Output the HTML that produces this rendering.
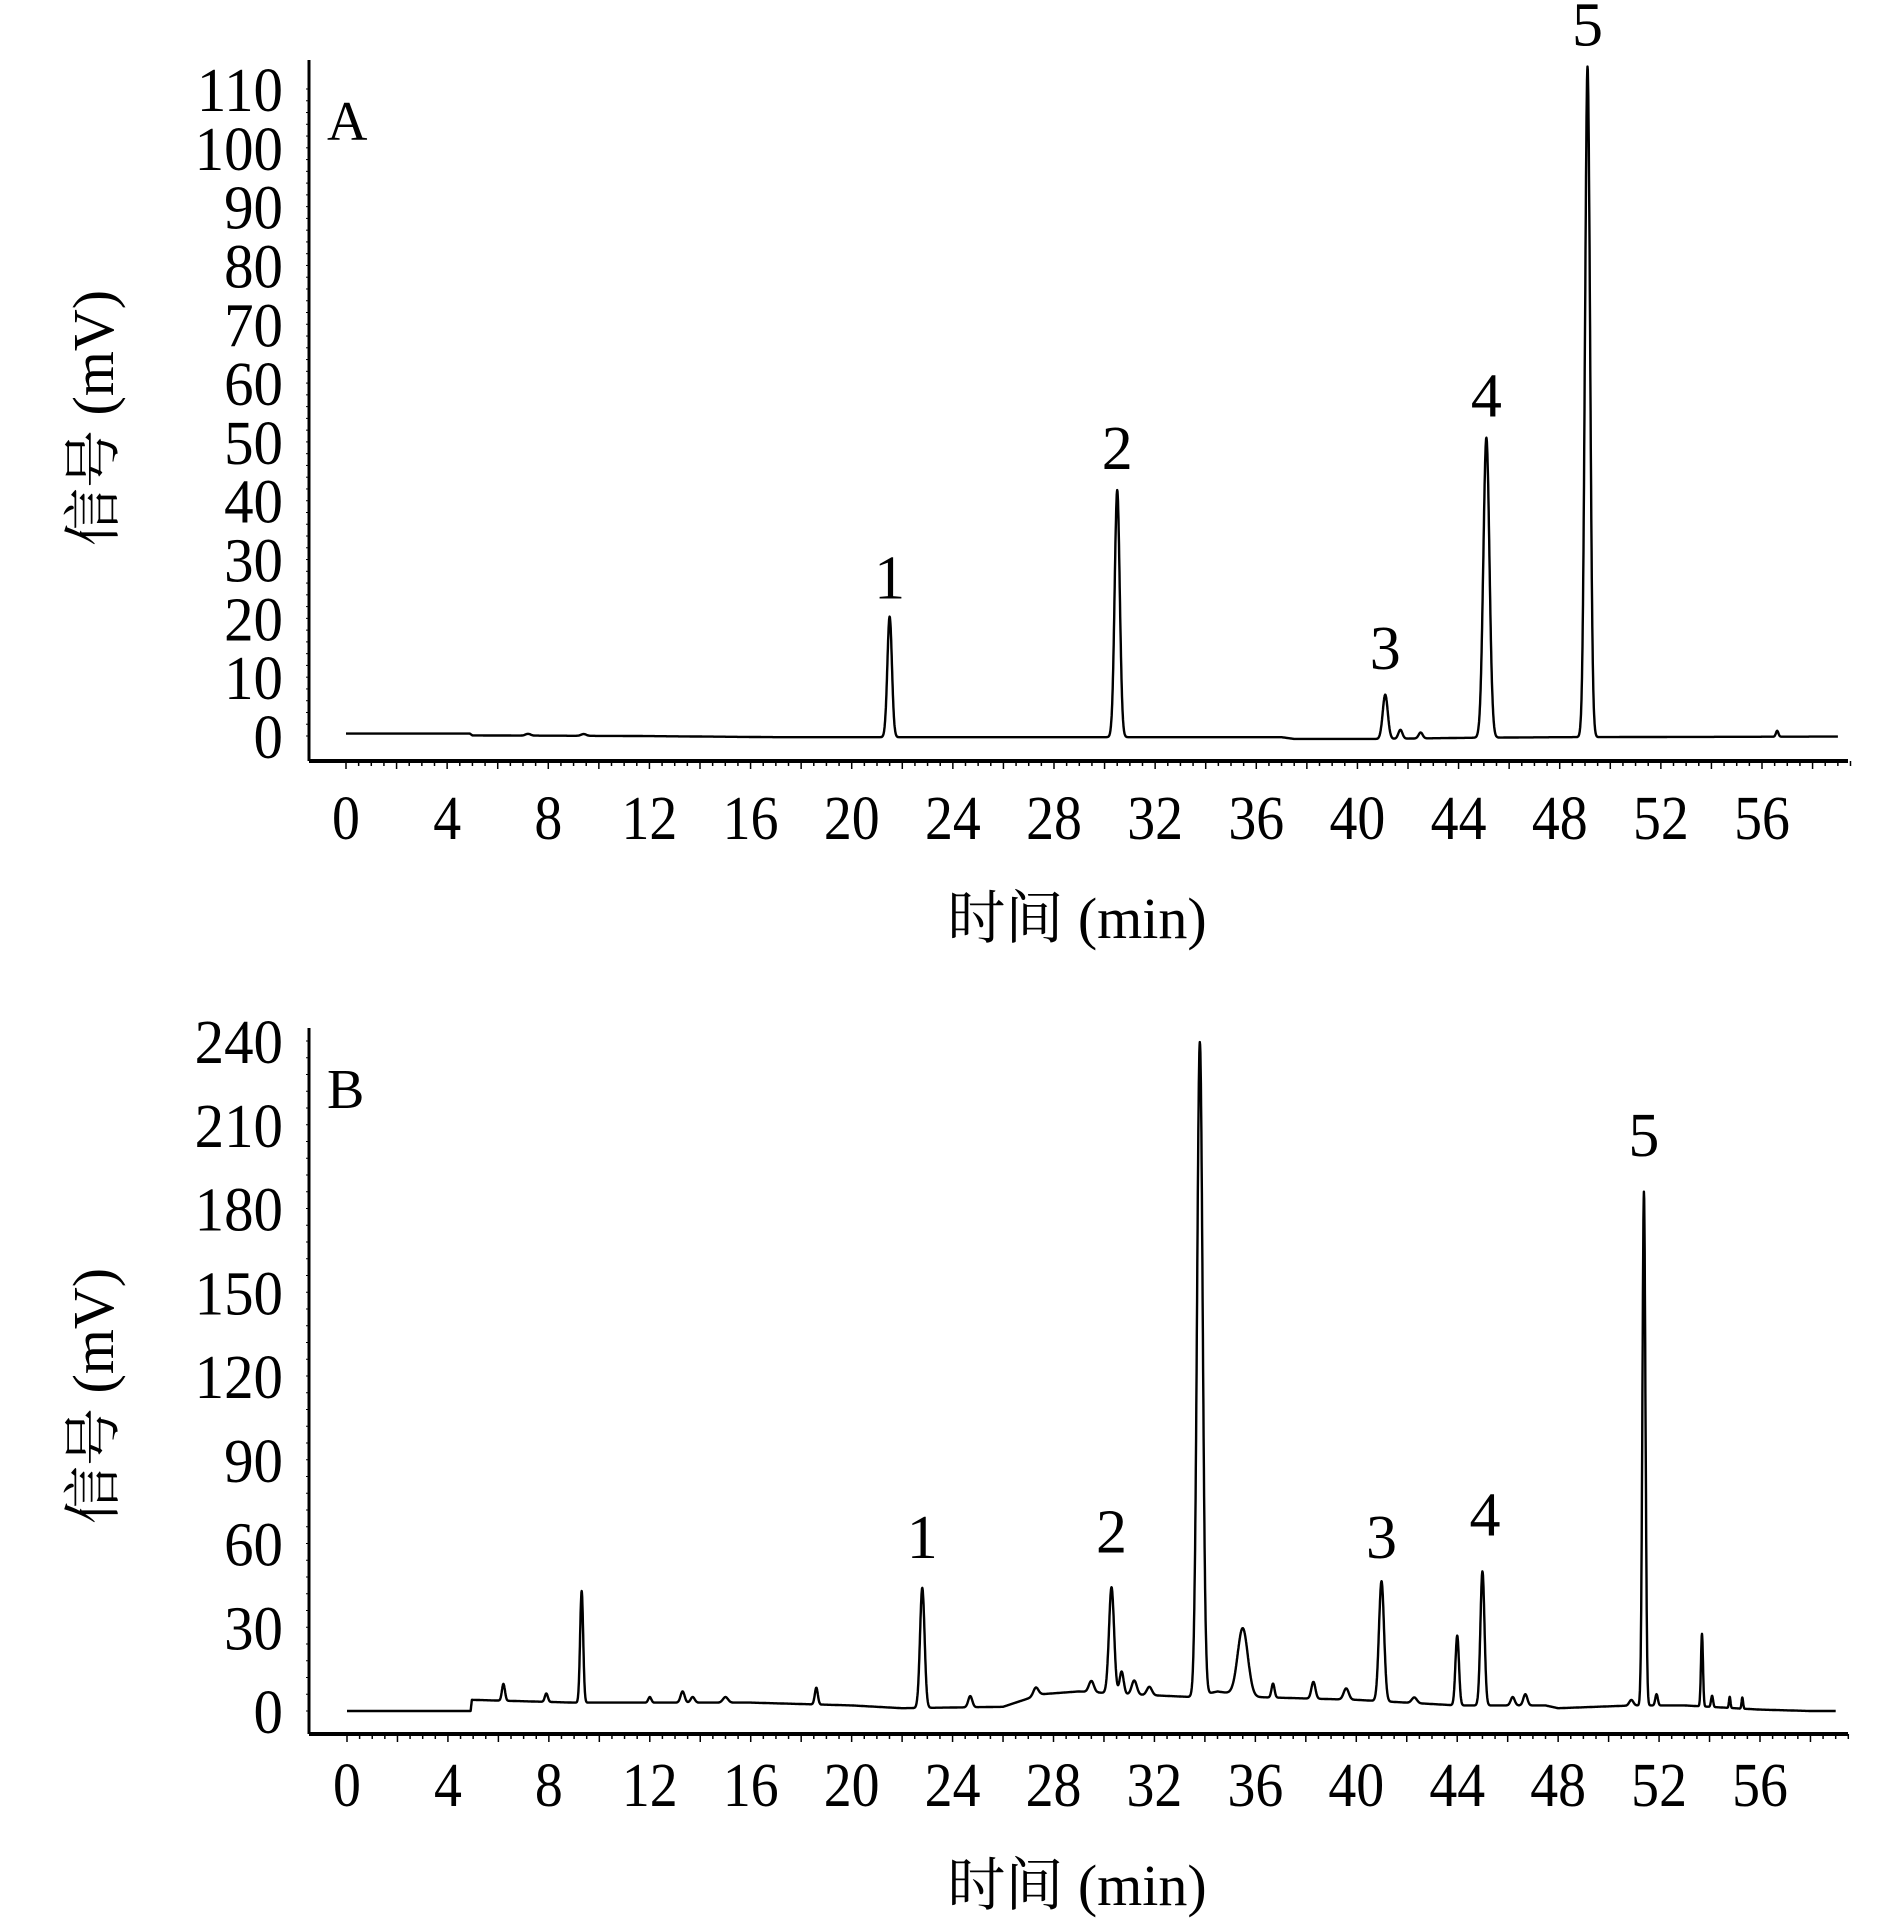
<!DOCTYPE html>
<html><head><meta charset="utf-8"><style>
html,body{margin:0;padding:0;background:#fff;}
svg{display:block;}
text{font-family:"Liberation Serif","Noto Serif CJK SC",serif;fill:#000;}
</style></head><body>
<svg id="chart" width="1890" height="1930" viewBox="0 0 1890 1930" xmlns="http://www.w3.org/2000/svg"></svg>
<script>
// Panel A data
const xTicks = [0,4,8,12,16,20,24,28,32,36,40,44,48,52,56];
const yTicksA = [0,10,20,30,40,50,60,70,80,90,100,110];
const yTicksB = [0,30,60,90,120,150,180,210,240];
// peaks: time (min), height (mV), width (min sigma)
const peakTimesA = [21.5,30.5,41.1,41.7,42.5,45.1,49.1,56.6,7.2,9.4];
const peakHeightsA = [20.5,42,7.5,1.5,1.0,51,114,1.0,0.3,0.3];
const peakWidthsA = [0.09,0.1,0.1,0.08,0.08,0.12,0.1,0.05,0.1,0.1];
const baseTimesA = [0,4.9,5.0,11.5,17,37,37.5,40.8,44.5,48,59];
const baseValsA = [0.4,0.4,0.1,0,-0.2,-0.2,-0.5,-0.5,-0.3,-0.2,-0.1];
const labelTimesA = [21.5,30.5,41.1,45.1,49.1];
const labelValsA = [22,44,10,53,116];
const labelTextA = ["1","2","3","4","5"];
// Panel B data
const peakTimesB = [6.2,7.9,9.3,12,13.3,13.7,15,18.6,22.8,24.7,27.3,29.5,30.3,30.7,31.2,31.8,33.8,35.5,36.7,38.3,39.6,41.0,42.3,44.0,45.0,46.2,46.7,50.9,51.4,51.9,53.7,54.1,54.8,55.3];
const peakHeightsB = [6,3,40,2,4,2,2,6,43,4,3,4,38,8,5,3,234,24,5,6,4,43,2,25,48,3,4,2,184,4,26,4,4,4];
const peakWidthsB = [0.06,0.06,0.06,0.06,0.08,0.08,0.1,0.06,0.09,0.08,0.1,0.1,0.1,0.08,0.1,0.1,0.11,0.2,0.06,0.08,0.1,0.1,0.1,0.07,0.08,0.08,0.08,0.08,0.06,0.05,0.04,0.04,0.03,0.03];
const baseTimesB = [0,4.9,4.95,9,16,20,22,26,27.5,29,31,33.5,34.5,36,40,42,44,47.5,48,51,53,55,56,58];
const baseValsB = [0,0,4,3,3,2,1,1.5,6,7,6,5,7,5,4,3,2,2,1,2,2,1,0.5,0];
const labelTimesB = [22.8,30.3,41.0,45.1,51.4];
const labelValsB = [52,54,52,60,196];
const labelTextB = ["1","2","3","4","5"];

const NS="http://www.w3.org/2000/svg";
const svg=document.getElementById('chart');
function mk(tag,attrs,parent){const e=document.createElementNS(NS,tag);for(const k in attrs)e.setAttribute(k,attrs[k]);(parent||svg).appendChild(e);return e;}
function baseline(ts,vs,t){for(let i=0;i<ts.length-1;i++){if(t>=ts[i]&&t<=ts[i+1]){const f=(t-ts[i])/(ts[i+1]-ts[i]||1);return vs[i]+f*(vs[i+1]-vs[i]);}}return vs[vs.length-1];}

function panel(cfg){
  const g=mk('g',{});
  
  
  const xS=t=>cfg.x0+(t)*(cfg.x56-cfg.x0)/56;
  const yS=v=>cfg.y0+v*(cfg.yTop-cfg.y0)/cfg.yMax;
  const ya=mk('line',{x1:cfg.axX,y1:cfg.axTop,x2:cfg.axX,y2:cfg.axY,stroke:'#000','stroke-width':3},g);
  
  const xa=mk('line',{x1:cfg.axX,y1:cfg.axY,x2:1848,y2:cfg.axY,stroke:'#000','stroke-width':4},g);
  
  for(let t=0;t<=59.5;t+=0.5){const x=xS(t);const L=(t%2===0)?8:5;mk('line',{x1:x,y1:cfg.axY,x2:x,y2:cfg.axY+L,stroke:'#000','stroke-width':1.5},g);}
  const step=cfg.yTicks[1]-cfg.yTicks[0];
  for(let v=0;v<=cfg.yMax+0.001;v+=step/5){mk('line',{x1:cfg.axX-3,y1:yS(v),x2:cfg.axX,y2:yS(v),stroke:'#000','stroke-width':1},g);}
  xTicks.forEach(t=>{const tx=mk('text',{transform:`translate(${xS(t)},${cfg.xLabY}) scale(0.9,1)`,'text-anchor':'middle','font-size':62},g);tx.textContent=t;
    });
  cfg.yTicks.forEach(v=>{const tx=mk('text',{transform:`translate(283,${yS(v)+22}) scale(0.95,1)`,'text-anchor':'end','font-size':62},g);tx.textContent=v;
    });
  let d='';
  for(let t=0;t<=59;t+=0.01){
    let v=baseline(cfg.bt,cfg.bv,t);
    for(let i=0;i<cfg.pt.length;i++){const z=(t-cfg.pt[i])/cfg.pw[i];v+=cfg.ph[i]*Math.exp(-0.5*z*z);}
    d+=(d?'L':'M')+xS(t).toFixed(1)+','+yS(v).toFixed(1);
  }
  const p=mk('path',{d:d,fill:'none',stroke:'#000','stroke-width':2.4,'stroke-linejoin':'round'},g);
  
  cfg.lt.forEach((t,i)=>{const tx=mk('text',{x:xS(t),y:yS(cfg.lv[i])-8,'text-anchor':'middle','font-size':62},g);tx.textContent=cfg.ltx[i];
    });
  const pl=mk('text',{x:cfg.axX+18,y:cfg.letterY,'font-size':56},g);pl.textContent=cfg.letter;
  
  const xt=mk('text',{x:1077,y:cfg.xTitleY,'text-anchor':'middle','font-size':58},g);xt.textContent='时间 (min)';
  
  const ytt=mk('text',{transform:`translate(113,${cfg.yTitleY}) rotate(-90)`,'text-anchor':'middle','font-size':58},g);ytt.textContent='信号 (mV)';
  
}
panel({name:'panel-a',x0:346,x56:1762,y0:736,yTop:89,yMax:110,yTicks:yTicksA,axX:309,axTop:60,axY:761,xLabY:839,
  pt:peakTimesA,ph:peakHeightsA,pw:peakWidthsA,bt:baseTimesA,bv:baseValsA,lt:labelTimesA,lv:labelValsA,ltx:labelTextA,letter:'A',letterY:140,xTitleY:938,yTitleY:418});
panel({name:'panel-b',x0:347,x56:1760,y0:1711,yTop:1041,yMax:240,yTicks:yTicksB,axX:309,axTop:1028,axY:1734,xLabY:1806,
  pt:peakTimesB,ph:peakHeightsB,pw:peakWidthsB,bt:baseTimesB,bv:baseValsB,lt:labelTimesB,lv:labelValsB,ltx:labelTextB,letter:'B',letterY:1108,xTitleY:1905,yTitleY:1396});
</script>
</body></html>
